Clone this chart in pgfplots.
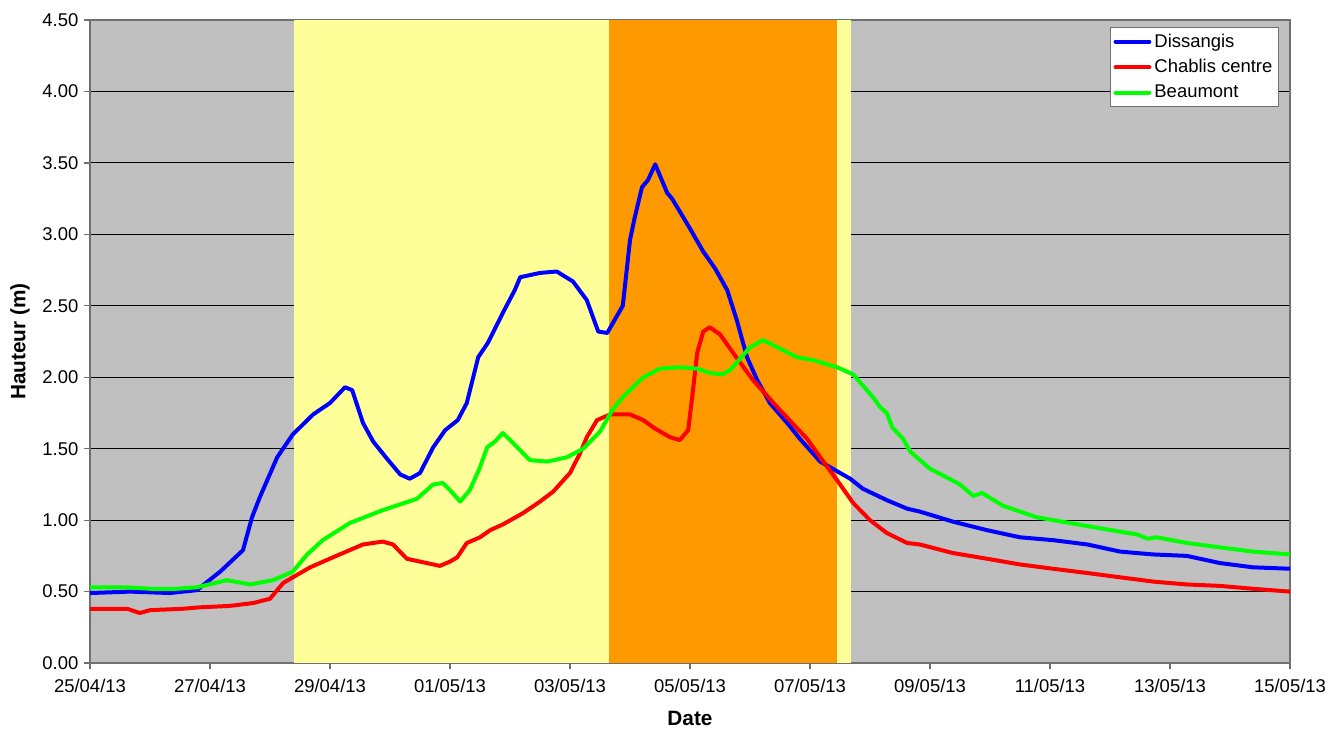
\documentclass[border=0pt]{standalone}
\usepackage{fontspec}
\setmainfont{Liberation Sans}
\usepackage{pgfplots}
\pgfplotsset{compat=1.18}
\usetikzlibrary{calc}
\definecolor{bggray}{HTML}{C0C0C0}
\definecolor{zyellow}{HTML}{FFFF99}
\definecolor{zorange}{HTML}{FF9900}
\definecolor{frame}{HTML}{707070}

\begin{document}
\begin{tikzpicture}
\begin{axis}[
    scale only axis,
    width=780pt,
    height=418pt,
    xmin=0, xmax=20,
    ymin=0, ymax=4.5,
    xtick={0,2,...,20},
    xticklabels={25/04/13,27/04/13,29/04/13,01/05/13,03/05/13,05/05/13,07/05/13,09/05/13,11/05/13,13/05/13,15/05/13},
    ytick={0,0.5,...,4.5},
    xtick pos=bottom, ytick pos=left,
    yticklabel style={/pgf/number format/.cd, fixed, fixed zerofill, precision=2, assume math mode=true},
    xticklabel style={yshift=-3pt},
    tick align=outside,
    major tick length=4pt,
    tick style={frame, line width=0.8pt},
    ticklabel style={font=\fontsize{12pt}{14pt}\selectfont},
    axis background/.style={fill=bggray},
    axis line style={frame, line width=1.3pt},
    ymajorgrids,
    major grid style={black, line width=0.7pt},
    xlabel={\textbf{Date}},
    ylabel={\textbf{Hauteur (m)}},
    every axis x label/.style={at={(axis description cs:0.5,-0.0855)}, anchor=center,
        font=\fontsize{13.5pt}{15pt}\selectfont},
    every axis y label/.style={at={(axis description cs:-0.0583,0.5)}, anchor=center, rotate=90,
        font=\fontsize{13.5pt}{15pt}\selectfont},
    legend style={at={(0.991,0.989)}, anchor=north east, draw=frame, fill=white,
        line width=0.8pt, font=\fontsize{12pt}{14pt}\selectfont, row sep=2.5pt,
        inner xsep=2pt, inner ysep=2pt},
    legend cell align=left,
    legend image code/.code={\draw[#1, line width=2.6pt] (0pt,0pt) -- (22pt,0pt);},
    every axis plot/.append style={line join=round, line cap=round},
]
% periodes colorees
\addplot[fill=zyellow, draw=none, forget plot] coordinates {(3.4,0) (3.4,4.5) (12.69,4.5) (12.69,0)} -- cycle;
\addplot[fill=zorange, draw=none, forget plot] coordinates {(8.65,0) (8.65,4.5) (12.45,4.5) (12.45,0)} -- cycle;

% Dissangis
\addplot[blue, line width=2.6pt] coordinates {
(0,0.49) (0.67,0.50) (1.33,0.49) (1.78,0.51) (2.17,0.64) (2.55,0.79) (2.7,1.02)
(2.83,1.16) (3.12,1.44) (3.38,1.60) (3.72,1.74) (4.0,1.82) (4.25,1.93) (4.37,1.91)
(4.55,1.68) (4.72,1.55) (4.95,1.43) (5.17,1.32) (5.33,1.29) (5.5,1.33) (5.72,1.51)
(5.92,1.63) (6.13,1.70) (6.28,1.82) (6.47,2.14) (6.63,2.24) (6.88,2.45) (7.08,2.61)
(7.17,2.70) (7.5,2.73) (7.78,2.74) (8.05,2.67) (8.28,2.54) (8.47,2.32) (8.62,2.31)
(8.88,2.50) (9.0,2.96) (9.08,3.12) (9.2,3.33) (9.3,3.38) (9.42,3.49) (9.62,3.29)
(9.7,3.25) (9.83,3.16) (10.0,3.04) (10.22,2.88) (10.42,2.76) (10.62,2.61) (10.78,2.40)
(10.95,2.14) (11.12,1.98) (11.33,1.82) (11.62,1.68) (11.83,1.57) (12.17,1.41)
(12.67,1.29) (12.88,1.22) (13.28,1.14) (13.62,1.08) (13.83,1.06) (14.38,0.99)
(14.95,0.93) (15.5,0.88) (16.05,0.86) (16.62,0.83) (17.17,0.78) (17.72,0.76)
(18.28,0.75) (18.83,0.70) (19.38,0.67) (20,0.66)
};
\addlegendentry{Dissangis}

% Chablis centre
\addplot[red, line width=2.6pt] coordinates {
(0,0.38) (0.62,0.38) (0.83,0.35) (1.0,0.37) (1.55,0.38) (1.83,0.39) (2.33,0.40)
(2.72,0.42) (3.0,0.45) (3.22,0.56) (3.38,0.60) (3.67,0.67) (4.05,0.74) (4.55,0.83)
(4.88,0.85) (5.05,0.83) (5.28,0.73) (5.5,0.71) (5.83,0.68) (6.0,0.71) (6.12,0.74)
(6.28,0.84) (6.5,0.88) (6.67,0.93) (6.88,0.97) (7.22,1.05) (7.5,1.13) (7.72,1.20)
(8.0,1.33) (8.17,1.47) (8.28,1.58) (8.45,1.70) (8.67,1.74) (9.0,1.74) (9.22,1.70)
(9.42,1.64) (9.67,1.58) (9.83,1.56) (9.97,1.63) (10.05,1.91) (10.12,2.17) (10.22,2.32)
(10.33,2.35) (10.5,2.30) (10.72,2.17) (11.05,1.98) (11.5,1.77) (11.95,1.57) (12.17,1.44)
(12.45,1.28) (12.72,1.12) (13.0,1.00) (13.28,0.91) (13.62,0.84) (13.83,0.83) (14.38,0.77)
(14.95,0.73) (15.5,0.69) (16.05,0.66) (16.62,0.63) (17.17,0.60) (17.72,0.57) (18.28,0.55)
(18.83,0.54) (19.38,0.52) (20,0.50)
};
\addlegendentry{Chablis centre}

% Beaumont
\addplot[green, line width=2.6pt] coordinates {
(0,0.53) (0.62,0.53) (1.0,0.52) (1.45,0.52) (1.78,0.53) (2.28,0.58) (2.67,0.55)
(3.05,0.58) (3.38,0.64) (3.62,0.76) (3.88,0.86) (4.33,0.98) (4.88,1.07) (5.45,1.15)
(5.72,1.25) (5.88,1.26) (6.0,1.21) (6.17,1.13) (6.33,1.21) (6.5,1.37) (6.62,1.51)
(6.75,1.55) (6.88,1.61) (7.05,1.54) (7.33,1.42) (7.62,1.41) (7.95,1.44) (8.22,1.50)
(8.5,1.62) (8.72,1.78) (8.9,1.87) (9.22,2.00) (9.5,2.06) (9.83,2.07) (10.12,2.06)
(10.33,2.03) (10.53,2.02) (10.67,2.05) (11.0,2.21) (11.22,2.26) (11.5,2.20) (11.78,2.14)
(12.05,2.12) (12.45,2.07) (12.72,2.02) (13.05,1.86) (13.17,1.79) (13.28,1.75) (13.37,1.65)
(13.55,1.57) (13.67,1.48) (14.0,1.36) (14.5,1.25) (14.72,1.17) (14.87,1.19) (15.22,1.10)
(15.78,1.02) (16.33,0.98) (16.88,0.94) (17.45,0.90) (17.63,0.87) (17.78,0.88) (18.28,0.84)
(18.83,0.81) (19.38,0.78) (20,0.76)
};
\addlegendentry{Beaumont}
\end{axis}
\pgfresetboundingbox
\path ($(current axis.south west)+(-58.5pt,-42.9pt)$) rectangle ($(current axis.north east)+(26pt,13pt)$);
\end{tikzpicture}
\end{document}
